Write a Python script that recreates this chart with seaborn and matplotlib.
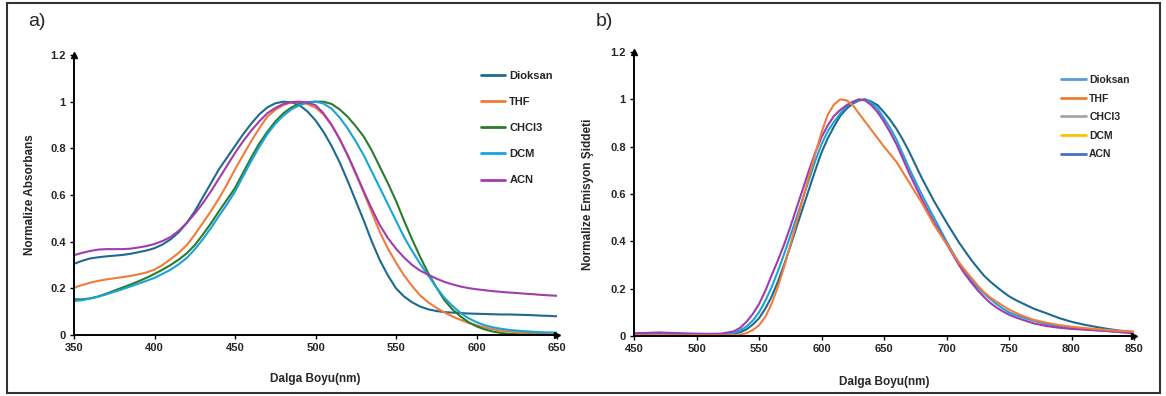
import matplotlib
matplotlib.use("Agg")
import matplotlib.pyplot as plt
import pandas as pd
import seaborn as sns
from matplotlib.lines import Line2D
from matplotlib.patches import Rectangle

# ---------------- data: panel a (absorption), every 5 nm ----------------
wl_a = [350, 355, 360, 365, 370, 375, 380, 385, 390, 395, 400, 405, 410, 415, 420, 425, 430, 435, 440, 445,
        450, 455, 460, 465, 470, 475, 480, 485, 490, 495, 500, 505, 510, 515, 520, 525, 530, 535, 540, 545,
        550, 555, 560, 565, 570, 575, 580, 585, 590, 595, 600, 605, 610, 615, 620, 625, 630, 635, 640, 645, 650]
abs_dioksan = [0.305, 0.318, 0.328, 0.333, 0.337, 0.340, 0.343, 0.348, 0.355, 0.362, 0.372, 0.388, 0.41, 0.44,
               0.48, 0.53, 0.59, 0.65, 0.71, 0.76, 0.81, 0.86, 0.905, 0.945, 0.975, 0.993, 1.0, 0.997, 0.985,
               0.958, 0.92, 0.87, 0.81, 0.74, 0.66, 0.575, 0.49, 0.40, 0.32, 0.255, 0.20, 0.165, 0.14, 0.122,
               0.11, 0.103, 0.098, 0.096, 0.094, 0.092, 0.091, 0.09, 0.089, 0.088, 0.088, 0.087, 0.086, 0.085,
               0.083, 0.082, 0.08]
abs_thf = [0.203, 0.214, 0.224, 0.232, 0.238, 0.243, 0.248, 0.253, 0.26, 0.268, 0.28, 0.30, 0.325, 0.352, 0.385,
           0.43, 0.48, 0.53, 0.585, 0.645, 0.71, 0.77, 0.83, 0.885, 0.935, 0.965, 0.985, 0.997, 0.998, 0.99,
           0.975, 0.945, 0.90, 0.84, 0.77, 0.69, 0.61, 0.525, 0.44, 0.37, 0.31, 0.255, 0.21, 0.17, 0.14, 0.117,
           0.097, 0.08, 0.065, 0.052, 0.042, 0.032, 0.025, 0.019, 0.015, 0.012, 0.01, 0.008, 0.007, 0.006, 0.005]
abs_chcl3 = [0.153, 0.153, 0.157, 0.165, 0.177, 0.19, 0.203, 0.216, 0.23, 0.245, 0.262, 0.28, 0.30, 0.323, 0.35,
             0.385, 0.43, 0.478, 0.53, 0.58, 0.63, 0.695, 0.76, 0.82, 0.87, 0.915, 0.95, 0.975, 0.99, 0.998,
             1.0, 1.0, 0.99, 0.967, 0.935, 0.895, 0.85, 0.79, 0.72, 0.65, 0.575, 0.49, 0.41, 0.335, 0.265, 0.205,
             0.15, 0.11, 0.08, 0.055, 0.037, 0.024, 0.015, 0.009, 0.005, 0.003, 0.002, 0.001, 0.001, 0.0, 0.0]
abs_dcm = [0.146, 0.149, 0.156, 0.164, 0.174, 0.185, 0.196, 0.208, 0.22, 0.232, 0.245, 0.262, 0.28, 0.303, 0.33,
           0.367, 0.41, 0.458, 0.51, 0.56, 0.615, 0.68, 0.745, 0.805, 0.86, 0.905, 0.94, 0.967, 0.985, 0.996,
           1.0, 0.992, 0.97, 0.932, 0.885, 0.83, 0.77, 0.70, 0.63, 0.56, 0.49, 0.42, 0.36, 0.305, 0.255, 0.205,
           0.16, 0.125, 0.095, 0.072, 0.055, 0.042, 0.033, 0.027, 0.022, 0.019, 0.016, 0.014, 0.012, 0.011, 0.01]
abs_acn = [0.342, 0.352, 0.36, 0.366, 0.368, 0.368, 0.368, 0.37, 0.375, 0.381, 0.39, 0.403, 0.42, 0.446, 0.48,
           0.52, 0.565, 0.615, 0.67, 0.725, 0.78, 0.83, 0.875, 0.915, 0.95, 0.973, 0.99, 0.998, 1.0, 0.996,
           0.985, 0.95, 0.90, 0.84, 0.77, 0.695, 0.615, 0.54, 0.47, 0.415, 0.37, 0.332, 0.30, 0.276, 0.258,
           0.242, 0.228, 0.217, 0.208, 0.201, 0.196, 0.192, 0.188, 0.185, 0.182, 0.18, 0.177, 0.175, 0.172,
           0.17, 0.168]

# ---------------- data: panel b (emission) ----------------
wl_b = [450, 460, 470, 480, 490, 500, 510, 520,
        530, 535, 540, 545, 550, 555, 560, 565, 570, 575, 580, 585, 590, 595, 600, 605, 610, 615, 620, 625,
        630, 635, 640, 645, 650, 655, 660, 665, 670, 675, 680, 685, 690, 695, 700, 705, 710, 715, 720, 725,
        730, 735, 740, 745, 750, 755, 760,
        770, 780, 790, 800, 810, 820, 830, 840, 850]
em_dioksan = [0.010, 0.011, 0.013, 0.011, 0.009, 0.008, 0.007, 0.007,
              0.010, 0.016, 0.028, 0.048, 0.075, 0.115, 0.165, 0.228, 0.30, 0.378, 0.46, 0.54, 0.62, 0.70,
              0.775, 0.835, 0.885, 0.93, 0.96, 0.982, 0.995, 1.0, 0.99, 0.975, 0.945, 0.913, 0.875, 0.83,
              0.78, 0.725, 0.67, 0.62, 0.57, 0.525, 0.48, 0.437, 0.395, 0.357, 0.32, 0.287, 0.255, 0.23,
              0.208, 0.187, 0.168, 0.153, 0.14,
              0.115, 0.096, 0.076, 0.06, 0.048, 0.038, 0.029, 0.022, 0.017]
em_thf = [0.003, 0.003, 0.004, 0.003, 0.003, 0.003, 0.003, 0.003,
          0.004, 0.006, 0.012, 0.025, 0.045, 0.08, 0.135, 0.205, 0.29, 0.383, 0.48, 0.578, 0.675, 0.77,
          0.86, 0.935, 0.978, 1.0, 0.996, 0.975, 0.94, 0.905, 0.87, 0.835, 0.80, 0.768, 0.735, 0.693,
          0.65, 0.607, 0.565, 0.518, 0.47, 0.43, 0.39, 0.35, 0.31, 0.277, 0.245, 0.213, 0.185, 0.163,
          0.145, 0.128, 0.112, 0.099, 0.087,
          0.068, 0.056, 0.046, 0.039, 0.034, 0.029, 0.025, 0.021, 0.018]
em_dcm = [0.008, 0.009, 0.011, 0.009, 0.008, 0.007, 0.006, 0.007,
          0.013, 0.024, 0.04, 0.065, 0.10, 0.148, 0.205, 0.272, 0.345, 0.422, 0.50, 0.58, 0.66, 0.74,
          0.81, 0.865, 0.905, 0.94, 0.97, 0.987, 0.997, 1.0, 0.985, 0.96, 0.92, 0.878, 0.83, 0.77,
          0.71, 0.655, 0.60, 0.55, 0.50, 0.45, 0.40, 0.353, 0.31, 0.27, 0.235, 0.205, 0.18, 0.157,
          0.135, 0.116, 0.10, 0.089, 0.08,
          0.064, 0.05, 0.041, 0.034, 0.029, 0.024, 0.02, 0.016, 0.014]
em_acn = [0.012, 0.013, 0.015, 0.013, 0.011, 0.010, 0.009, 0.010,
          0.02, 0.035, 0.06, 0.093, 0.135, 0.19, 0.255, 0.318, 0.385, 0.46, 0.54, 0.62, 0.70, 0.775,
          0.84, 0.89, 0.93, 0.955, 0.975, 0.99, 1.0, 0.995, 0.975, 0.945, 0.905, 0.86, 0.81, 0.75,
          0.69, 0.635, 0.58, 0.53, 0.48, 0.435, 0.39, 0.345, 0.30, 0.26, 0.225, 0.193, 0.165, 0.14,
          0.12, 0.104, 0.09, 0.079, 0.07,
          0.053, 0.042, 0.035, 0.03, 0.027, 0.024, 0.021, 0.016, 0.011]

solvents = ["Dioksan", "THF", "CHCl3", "DCM", "ACN"]
colors_a = {"Dioksan": "#1E6A8D", "THF": "#F07C3C", "CHCl3": "#2A7B2E", "DCM": "#1AA3DA", "ACN": "#A23BAE"}
legend_b_colors = ["#5B9BD5", "#ED7D31", "#A5A5A5", "#FFC000", "#4472C4"]

x_ticks_a = [350, 400, 450, 500, 550, 600, 650]
x_ticks_b = [450, 500, 550, 600, 650, 700, 750, 800, 850]
y_ticks = [0, 0.2, 0.4, 0.6, 0.8, 1.0, 1.2]
y_tick_labels = ["0", "0.2", "0.4", "0.6", "0.8", "1", "1.2"]

a_series = [("Dioksan", abs_dioksan), ("THF", abs_thf), ("CHCl3", abs_chcl3), ("DCM", abs_dcm), ("ACN", abs_acn)]
df_a = pd.DataFrame({"wl": sum([wl_a for _ in a_series], []),
                     "val": sum([v for _, v in a_series], []),
                     "solvent": sum([[s] * len(wl_a) for s, _ in a_series], [])})
b_series = [("Dioksan", em_dioksan), ("DCM", em_dcm), ("ACN", em_acn), ("THF", em_thf)]
df_b = pd.DataFrame({"wl": sum([wl_b for _ in b_series], []),
                     "val": sum([v for _, v in b_series], []),
                     "solvent": sum([[s] * len(wl_b) for s, _ in b_series], [])})

sns.set_style("white")
plt.rcParams["font.family"] = ["Liberation Sans", "DejaVu Sans"]

W, H = 1166, 396
fig = plt.figure(figsize=(W / 100, H / 100), dpi=100)
axa = fig.add_axes([74 / W, 61 / H, 483 / W, 280 / H])
axb = fig.add_axes([634 / W, 60 / H, 500 / W, 284 / H])

sns.lineplot(data=df_a, x="wl", y="val", hue="solvent", hue_order=solvents,
             palette=colors_a, estimator=None, linewidth=1.5, legend=False, ax=axa)
sns.lineplot(data=df_b, x="wl", y="val", hue="solvent", hue_order=["Dioksan", "DCM", "ACN", "THF"],
             palette=colors_a, estimator=None, linewidth=1.5, legend=False, ax=axb)


def style_axis(ax, xlim, xticks, ylabel, xlabel, ylab_x, xlab_y):
    ax.set_xlim(*xlim)
    ax.set_ylim(0, 1.2)
    ax.set_xticks(xticks)
    ax.set_xticklabels([str(t) for t in xticks])
    ax.set_yticks(y_ticks)
    ax.set_yticklabels(y_tick_labels)
    for s in ["top", "right"]:
        ax.spines[s].set_visible(False)
    for s in ["left", "bottom"]:
        ax.spines[s].set_color("black")
        ax.spines[s].set_linewidth(1.4)
    ax.tick_params(axis="both", direction="out", length=3, width=1, color="black",
                   labelsize=8, pad=3, bottom=True, left=True)
    for lbl in ax.get_xticklabels() + ax.get_yticklabels():
        lbl.set_fontweight("bold")
    ax.set_ylabel(ylabel, fontsize=8.5, fontweight="bold")
    ax.set_xlabel(xlabel, fontsize=8.5, fontweight="bold")
    ax.yaxis.set_label_coords(ylab_x, 0.5)
    ax.xaxis.set_label_coords(0.5, xlab_y)
    ax.plot(1, 0, ">", color="black", markersize=4, transform=ax.transAxes, clip_on=False)
    ax.plot(0, 1, "^", color="black", markersize=4, transform=ax.transAxes, clip_on=False)
    ax.grid(False)


style_axis(axa, (350, 650), x_ticks_a, "Normalize Absorbans", "Dalga Boyu(nm)", -0.079, -0.135)
style_axis(axb, (450, 850), x_ticks_b, "Normalize Emisyon Şiddeti", "Dalga Boyu(nm)", -0.08, -0.141)

handles_a = [Line2D([], [], color=colors_a[s], lw=2) for s in solvents]
axa.legend(handles_a, solvents, loc="upper left", bbox_to_anchor=((481 - 74) / 483, (335 - 71) / 280),
           frameon=False, borderpad=0, borderaxespad=0, handlelength=2.2, handletextpad=0.35,
           labelspacing=1.45, prop={"weight": "bold", "size": 8})

handles_b = [Line2D([], [], color=c, lw=2) for c in legend_b_colors]
axb.legend(handles_b, solvents, loc="upper left", bbox_to_anchor=((1061 - 634) / 500, (336 - 75) / 284),
           frameon=False, borderpad=0, borderaxespad=0, handlelength=2.4, handletextpad=0.3,
           labelspacing=0.82, prop={"weight": "bold", "size": 7.5})

fig.text(28 / W, 1 - 22 / H, "a)", fontsize=14, va="center", ha="left")
fig.text(596 / W, 1 - 21 / H, "b)", fontsize=14, va="center", ha="left")

fig.patches.append(Rectangle((7 / W, 3 / H), (1160 - 7) / W, (393 - 3) / H, transform=fig.transFigure,
                             fill=False, lw=1.5, edgecolor="#333333"))

fig.savefig("out.png", dpi=100)
